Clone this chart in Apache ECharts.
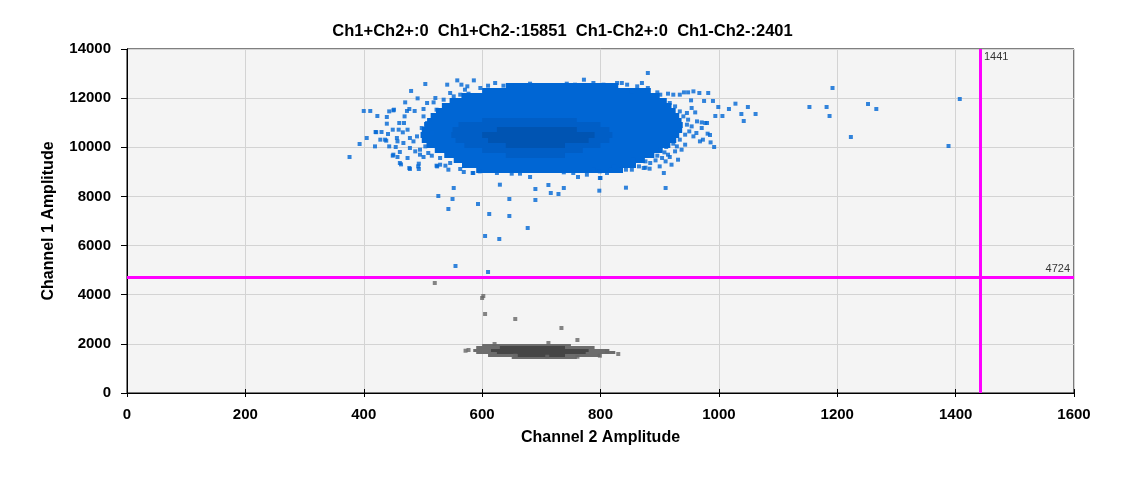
<!DOCTYPE html>
<html>
<head>
<meta charset="utf-8">
<script src="https://cdn.jsdelivr.net/npm/echarts@6/dist/echarts.min.js"></script>
<style>
  html, body { margin: 0; padding: 0; background: #fff; }
  #chart { width: 1125px; height: 478px; }
</style>
</head>
<body>
<div id="chart"></div>
<script>
// counts shown in the title
var titleText = 'Ch1+Ch2+:0  Ch1+Ch2-:15851  Ch1-Ch2+:0  Ch1-Ch2-:2401';

// gate thresholds
var gateX = 1441;
var gateY = 4724;

var xTicks = [0, 200, 400, 600, 800, 1000, 1200, 1400, 1600];
var yTicks = [0, 2000, 4000, 6000, 8000, 10000, 12000, 14000];

// dense part of the Ch1+ cluster: [ch1, ch2 from, ch2 to]
var blueRows = [
    [12500, 640, 830],
    [12300, 600, 885],
    [12100, 565, 900],
    [11900, 545, 912],
    [11700, 532, 920],
    [11500, 522, 927],
    [11300, 513, 933],
    [11100, 507, 937],
    [10900, 502, 939],
    [10700, 498, 938],
    [10500, 496, 933],
    [10300, 498, 928],
    [10100, 506, 918],
    [9900, 520, 905],
    [9700, 536, 891],
    [9500, 552, 875],
    [9300, 566, 860],
    [9100, 590, 838]
];

// darker core of the Ch1+ cluster
var blueCoreRows = [
    [11100, 600, 760],
    [10900, 560, 800],
    [10700, 550, 815],
    [10500, 548, 820],
    [10300, 555, 815],
    [10100, 570, 800],
    [9900, 600, 770],
    [9700, 640, 740]
];

var blueInnerRows = [
    [10700, 625, 760],
    [10500, 600, 790],
    [10300, 610, 780],
    [10100, 640, 740]
];

// single droplets around the Ch1+ cluster [ch2, ch1]
var bluePoints = [
    [376, 9605], [393, 10134], [400, 11478], [411, 11478], [405, 10378], [423, 11274],
    [421, 10614], [430, 10623], [439, 11233], [439, 10960], [441, 10541], [438, 10269],
    [443, 10037], [454, 10012], [449, 9658], [457, 9605], [461, 9809], [463, 9304],
    [478, 9117], [492, 9223], [493, 9333], [474, 9565], [450, 11502], [443, 11462],
    [470, 11828], [480, 12292], [504, 12576], [491, 11991], [486, 11478], [473, 11478],
    [469, 11258], [460, 10989], [468, 10989], [474, 10716], [466, 10608], [456, 10378],
    [457, 10241], [467, 10175], [478, 10378], [478, 9971], [487, 9834], [495, 9699],
    [501, 9605], [515, 9658], [524, 9223], [538, 9251], [541, 12548], [558, 12723],
    [565, 12548], [575, 12480], [586, 12723], [546, 12210], [563, 12141], [577, 12182],
    [521, 12005], [507, 11803], [501, 11558], [518, 11828], [610, 12507], [622, 12617],
    [636, 12507], [656, 12507], [661, 12413], [681, 12589], [690, 12480], [543, 9088],
    [563, 9117], [585, 8954], [596, 9020], [625, 8954], [650, 8926], [664, 8926],
    [681, 8791], [477, 9158], [461, 9361], [523, 9251], [493, 9117], [529, 9292],
    [420, 10623], [436, 10310], [451, 11530], [450, 9699],
    [501, 11258], [507, 10989], [498, 10785], [490, 10444], [484, 10241], [504, 10037],
    [495, 9902], [509, 9768], [529, 9565], [546, 9361], [515, 10582], [523, 11530],
    [535, 11937], [552, 12072], [571, 12345], [597, 12413], [477, 11558], [459, 10716],
    [449, 10716], [428, 10310], [419, 10037],
    [552, 8343], [526, 8018], [550, 7896], [543, 7489], [593, 7692], [612, 7285],
    [646, 7896], [646, 7204], [690, 7855], [690, 8303], [677, 6716], [605, 6390],
    [629, 6268], [555, 5169], [610, 4925], [630, 8478], [716, 8140], [729, 8099],
    [738, 8343], [712, 8466], [569, 8995], [584, 8954], [798, 8234], [843, 8356],
    [907, 8954], [910, 8343], [800, 8750], [876, 9170],
    [880, 13024], [772, 12751], [743, 12589], [757, 12548], [828, 12617], [836, 12617],
    [845, 12548], [870, 12617], [862, 12480], [880, 12413], [896, 12235], [901, 12141],
    [914, 12182], [923, 12141], [934, 12141], [941, 12235], [948, 12235], [957, 12276],
    [967, 12210], [982, 12210], [953, 11910], [975, 11885], [990, 11885], [999, 11640],
    [1017, 11558], [1028, 11775], [994, 11274], [1006, 11274], [946, 11396], [960, 11420],
    [963, 11054], [971, 11013], [980, 10989], [971, 10785], [954, 10851], [950, 10648],
    [981, 10554], [985, 10500], [973, 10310], [968, 10241], [986, 10200], [992, 10012],
    [957, 10444], [943, 10106], [929, 10037], [937, 9902], [926, 9834], [931, 9495],
    [914, 9699], [917, 9605], [908, 9793], [901, 9902], [911, 10012], [896, 9658],
    [904, 9565], [893, 9467], [910, 9426], [884, 9361], [876, 9426], [865, 9223],
    [856, 9495], [843, 9088], [853, 9088], [873, 9158], [883, 9129], [833, 9088],
    [822, 9223], [817, 9088], [799, 9020], [799, 8750], [788, 9088], [762, 8791],
    [738, 8980], [917, 11803], [926, 11665], [934, 11461], [940, 11258], [948, 11124],
    [946, 10920], [943, 10513], [934, 10310], [923, 10147], [906, 11803], [889, 12006],
    [853, 12276], [805, 12548], [788, 12617], [954, 11600], [962, 10582], [920, 9292],
    [900, 9223], [811, 8954], [777, 8885], [754, 8954],
    [1038, 11355], [1049, 11640], [1062, 11355], [1042, 11070], [977, 10989],
    [1153, 11640], [1182, 11640], [1187, 11274], [1192, 12413], [1223, 10419],
    [1252, 11762], [1266, 11558], [1388, 10053], [1407, 11966]
];

// dense part of the Ch1- cluster
var grayRows = [
    [1950, 600, 750],
    [1850, 590, 790],
    [1750, 585, 815],
    [1650, 590, 825],
    [1550, 610, 800],
    [1470, 650, 760]
];

var grayCoreRows = [
    [1850, 630, 740],
    [1750, 615, 780],
    [1650, 625, 775],
    [1550, 660, 740]
];

var grayPoints = [
    [520, 4477], [600, 3866], [602, 3948], [605, 3215], [656, 3012], [734, 2645],
    [761, 2157], [712, 2035], [621, 1994], [577, 1750], [830, 1587], [799, 1518],
    [761, 1477], [710, 1477], [656, 1518], [811, 1700], [572, 1720]
];

var FONT = 'Liberation Sans';

function rowsToLines(rows) {
    return rows.map(function (r) {
        return { coords: [[r[1], r[0]], [r[2], r[0]]] };
    });
}

function rowSeries(rows, color, width) {
    return {
        type: 'lines',
        coordinateSystem: 'cartesian2d',
        data: rowsToLines(rows),
        silent: true,
        lineStyle: { color: color, width: width, opacity: 1, cap: 'butt' },
        z: 2
    };
}

function pointSeries(points, color) {
    return {
        type: 'scatter',
        data: points,
        symbol: 'rect',
        symbolSize: 4,
        itemStyle: { color: color },
        silent: true,
        z: 3
    };
}

function gateLabel(point, text, position, offset) {
    return {
        type: 'scatter',
        data: [point],
        symbolSize: 0,
        silent: true,
        z: 6,
        label: {
            show: true,
            fontFamily: FONT,
            fontSize: 11,
            color: '#000',
            formatter: text,
            position: position,
            distance: 4,
            offset: offset
        }
    };
}

var myChart = echarts.init(document.getElementById('chart'));

var labelStyle = { fontFamily: FONT, fontSize: 15, fontWeight: 'bold', color: '#000' };
var nameStyle = { fontFamily: FONT, fontSize: 16, fontWeight: 'bold', color: '#000' };

var option = {
    animation: false,
    backgroundColor: '#ffffff',
    title: {
        text: titleText,
        left: 'center',
        top: 18,
        textStyle: { fontFamily: FONT, fontSize: 16.5, fontWeight: 'bold', color: '#000' }
    },
    grid: {
        left: 127,
        right: 51,
        top: 49,
        bottom: 85,
        show: true,
        backgroundColor: '#f4f4f4',
        borderColor: '#000',
        borderWidth: 1
    },
    xAxis: [{
        type: 'value',
        min: xTicks[0],
        max: xTicks[xTicks.length - 1],
        interval: 200,
        name: 'Channel 2 Amplitude',
        nameLocation: 'middle',
        nameGap: 37,
        nameTextStyle: nameStyle,
        axisLine: { show: true, lineStyle: { color: '#000', width: 1 } },
        axisTick: { show: true, inside: true, length: 4, lineStyle: { color: '#000' } },
        axisLabel: Object.assign({ margin: 14, formatter: function (v) { return String(v); } }, labelStyle),
        splitLine: { show: true, lineStyle: { color: '#d3d3d3', width: 1 } }
    }, {
        type: 'value',
        position: 'top',
        min: xTicks[0],
        max: xTicks[xTicks.length - 1],
        interval: 200,
        axisLine: { show: true, lineStyle: { color: '#000' } },
        axisTick: { show: true, inside: true, length: 4, lineStyle: { color: '#000' } },
        axisLabel: { show: false },
        splitLine: { show: false }
    }],
    yAxis: [{
        type: 'value',
        min: yTicks[0],
        max: yTicks[yTicks.length - 1],
        interval: 2000,
        name: 'Channel 1 Amplitude',
        nameLocation: 'middle',
        nameGap: 70,
        nameTextStyle: nameStyle,
        axisLine: { show: true, lineStyle: { color: '#000', width: 1 } },
        axisTick: { show: true, inside: false, length: 6, lineStyle: { color: '#000' } },
        axisLabel: Object.assign({ margin: 16, formatter: function (v) { return String(v); } }, labelStyle),
        splitLine: { show: true, lineStyle: { color: '#d3d3d3', width: 1 } }
    }, {
        type: 'value',
        position: 'right',
        min: yTicks[0],
        max: yTicks[yTicks.length - 1],
        interval: 2000,
        axisLine: { show: true, lineStyle: { color: '#000' } },
        axisTick: { show: true, inside: true, length: 4, lineStyle: { color: '#000' } },
        axisLabel: { show: false },
        splitLine: { show: false }
    }],
    series: [
        rowSeries(blueRows, '#0066d4', 6),
        rowSeries(blueCoreRows, '#005ec6', 6),
        rowSeries(blueInnerRows, '#0054b2', 6),
        pointSeries(bluePoints, '#0066d4'),
        rowSeries(grayRows, '#6c6c6c', 3),
        rowSeries(grayCoreRows, '#454545', 3),
        pointSeries(grayPoints, '#666666'),
        gateLabel([gateX, yTicks[yTicks.length - 1]], String(gateX), 'right', [0, 8]),
        gateLabel([xTicks[xTicks.length - 1], gateY], String(gateY), 'left', [0, -8]),
        {
            type: 'scatter',
            data: [],
            silent: true,
            z: 5,
            markLine: {
                silent: true,
                symbol: 'none',
                label: { show: false },
                lineStyle: { color: '#ff00ff', width: 3, type: 'solid' },
                data: [{ xAxis: gateX }, { yAxis: gateY }]
            }
        }
    ]
};

myChart.setOption(option);
</script>
</body>
</html>
